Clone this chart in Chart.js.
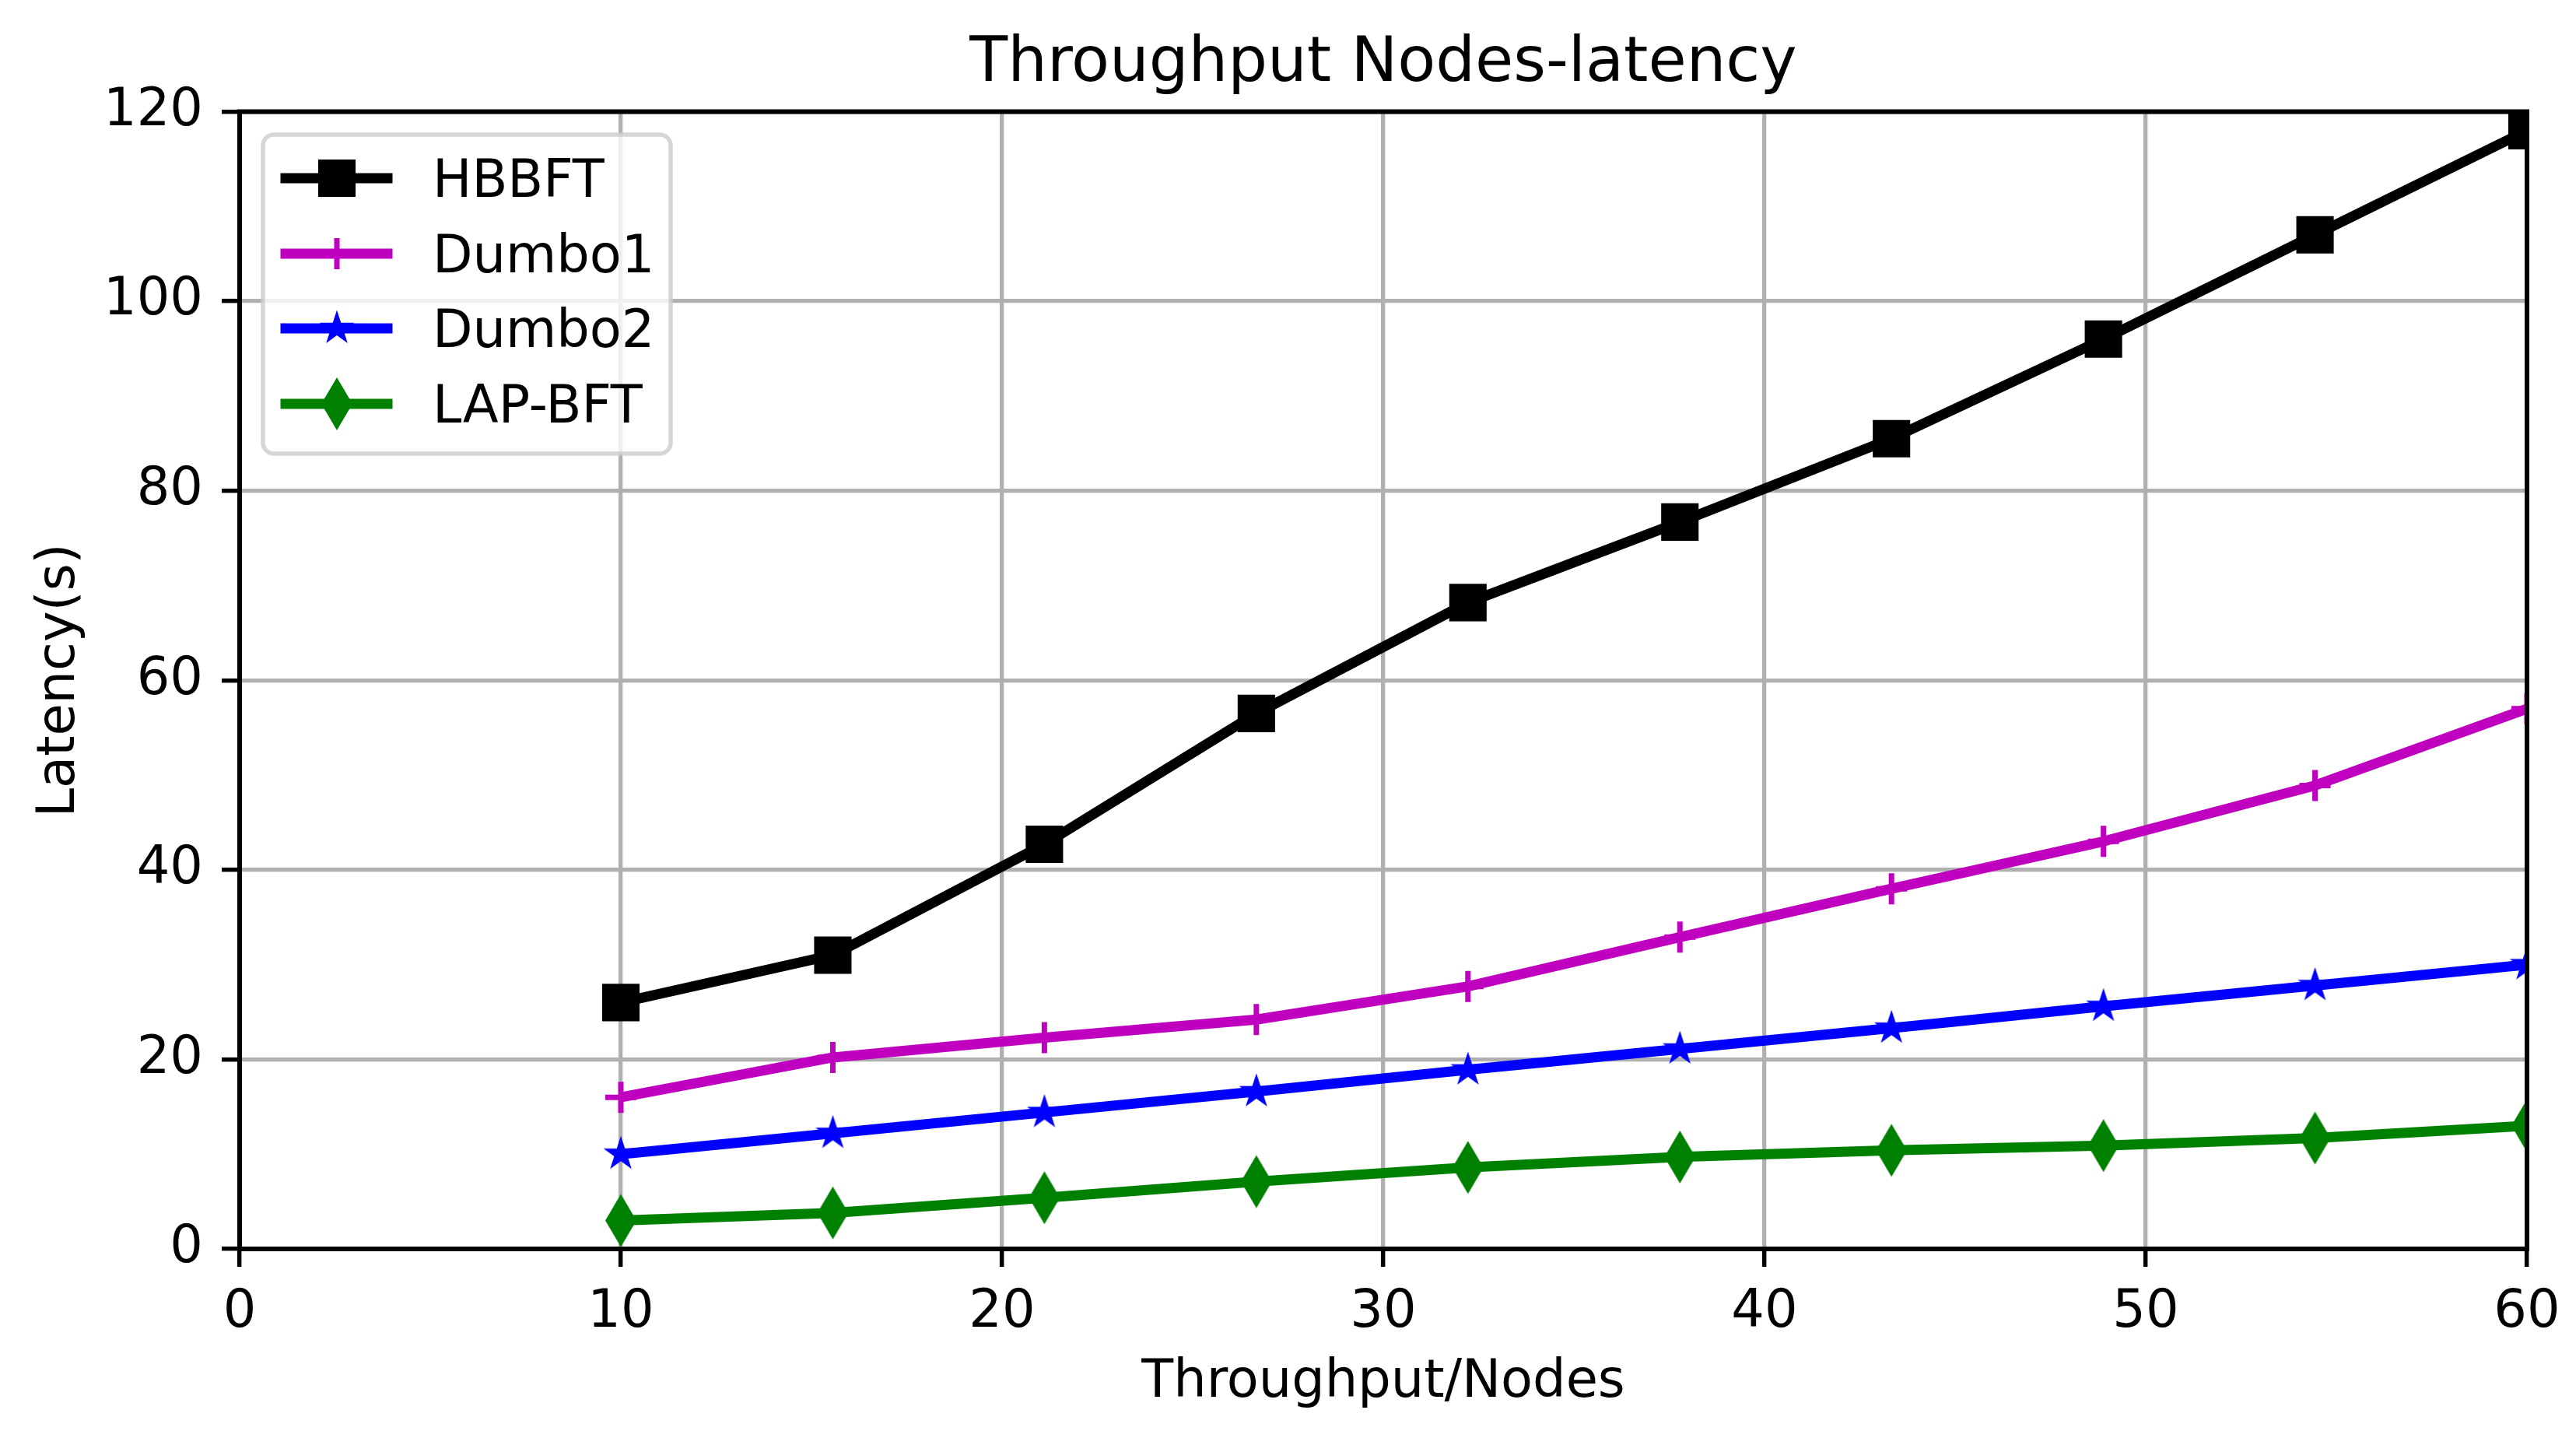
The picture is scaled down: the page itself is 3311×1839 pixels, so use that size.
<!DOCTYPE html>
<html>
<head>
<meta charset="utf-8">
<title>Throughput Nodes-latency</title>
<script src="https://cdn.jsdelivr.net/npm/chart.js@4.4.0/dist/chart.umd.min.js"></script>
<style>
  html, body { margin: 0; padding: 0; background: #ffffff; }
  #wrap { width: 3311px; height: 1839px; }
</style>
</head>
<body>
<div id="wrap"><canvas id="latencyChart" width="3311" height="1839"></canvas></div>
<script>
// throughput/nodes positions shared by every series
const nodes = [10, 15.56, 21.11, 26.67, 32.22, 37.78, 43.33, 48.89, 54.44, 60];

// latency in seconds
const hbbft  = [26, 31, 42.7, 56.5, 68.2, 76.7, 85.5, 96, 107, 118];
const dumbo1 = [16, 20.2, 22.3, 24.2, 27.7, 32.9, 38, 43, 48.9, 57];
const dumbo2 = [10, 12.2, 14.4, 16.6, 18.9, 21.1, 23.3, 25.6, 27.8, 30];
const lapbft = [3, 3.8, 5.4, 7.1, 8.6, 9.7, 10.4, 10.9, 11.7, 13];

const xTickValues = [0, 10, 20, 30, 40, 50, 60];
const yTickValues = [0, 20, 40, 60, 80, 100, 120];

const FONT = "'DejaVu Sans', 'Liberation Sans', sans-serif";

// small canvases used as marker images (filled star, thin diamond)
function markerCanvas(w, h, color, pts) {
    const c = document.createElement('canvas');
    c.width = w;
    c.height = h;
    const g = c.getContext('2d');
    g.beginPath();
    pts.forEach((p, i) => i ? g.lineTo(p[0], p[1]) : g.moveTo(p[0], p[1]));
    g.closePath();
    g.fillStyle = color;
    g.fill();
    return c;
}

const starPts = [];
for (let i = 0; i < 10; i++) {
    const r = i % 2 ? 9 : 23.5;
    const a = -Math.PI / 2 + i * Math.PI / 5;
    starPts.push([25 + r * Math.cos(a), 25 + r * Math.sin(a)]);
}
const starMarker = markerCanvas(50, 50, '#0000ff', starPts);
const diamondMarker = markerCanvas(44, 72, '#008000', [[22, 2], [42, 36], [22, 70], [2, 36]]);

function pairs(ys) {
    return nodes.map((x, i) => ({ x: x, y: ys[i] }));
}

function series(label, ys, color, style, radius, pointBorder, order) {
    return {
        label: label,
        data: pairs(ys),
        borderColor: color,
        backgroundColor: color,
        borderWidth: 13,
        borderJoinStyle: 'round',
        borderCapStyle: 'butt',
        tension: 0,
        fill: false,
        pointStyle: style,
        pointRadius: radius,
        pointHoverRadius: radius,
        pointBorderWidth: pointBorder,
        pointBackgroundColor: color,
        pointBorderColor: color,
        clip: 0,
        order: order
    };
}

const datasets = [
    series('HBBFT', hbbft, '#000000', 'rect', 34, 0, 4),
    series('Dumbo1', dumbo1, '#bf00bf', 'cross', 20, 7, 3),
    series('Dumbo2', dumbo2, '#0000ff', starMarker, 20, 0, 2),
    series('LAP-BFT', lapbft, '#008000', diamondMarker, 20, 0, 1)
];

// main title, centred over the plot area
const titlePlugin = {
    id: 'plotTitle',
    afterDraw(chart) {
        const ctx = chart.ctx;
        const a = chart.chartArea;
        ctx.save();
        ctx.font = '80px ' + FONT;
        ctx.fillStyle = '#000';
        ctx.textAlign = 'center';
        ctx.textBaseline = 'alphabetic';
        ctx.fillText('Throughput Nodes-latency', (a.left + a.right) / 2, 104);
        ctx.restore();
    }
};

// four black spines round the plot
const framePlugin = {
    id: 'frame',
    afterDatasetsDraw(chart) {
        const ctx = chart.ctx;
        const a = chart.chartArea;
        ctx.save();
        ctx.strokeStyle = '#000';
        ctx.lineWidth = 6;
        ctx.strokeRect(a.left, a.top, a.right - a.left, a.bottom - a.top);
        ctx.restore();
    }
};

// legend box in the upper-left corner of the axes
const legendPlugin = {
    id: 'insideLegend',
    afterDraw(chart) {
        const ctx = chart.ctx;
        ctx.save();
        ctx.beginPath();
        ctx.roundRect(338, 173, 524, 410, 14);
        ctx.fillStyle = 'rgba(255,255,255,0.8)';
        ctx.fill();
        ctx.lineWidth = 5.5;
        ctx.strokeStyle = 'rgba(204,204,204,0.8)';
        ctx.stroke();

        const rows = [229, 326, 422, 519];
        chart.data.datasets.forEach((ds, i) => {
            const y = rows[i];
            ctx.beginPath();
            ctx.moveTo(367, y);
            ctx.lineTo(498, y);
            ctx.lineWidth = ds.borderWidth;
            ctx.strokeStyle = ds.borderColor;
            ctx.lineCap = 'square';
            ctx.stroke();

            ctx.fillStyle = ds.pointBackgroundColor;
            ctx.strokeStyle = ds.pointBorderColor;
            ctx.lineWidth = ds.pointBorderWidth;
            ctx.lineCap = 'butt';
            Chart.helpers.drawPoint(ctx, {
                pointStyle: ds.pointStyle,
                radius: ds.pointRadius,
                rotation: 0,
                borderWidth: ds.pointBorderWidth
            }, 433, y);

            ctx.fillStyle = '#000';
            ctx.font = '67px ' + FONT;
            ctx.textAlign = 'left';
            ctx.textBaseline = 'alphabetic';
            ctx.fillText(ds.label, 556, y + 24);
        });
        ctx.restore();
    }
};

const gridStyle = {
    color: '#b0b0b0',
    lineWidth: 5.3,
    drawTicks: true,
    tickLength: 23,
    tickColor: '#000000',
    tickWidth: 5.5
};

new Chart(document.getElementById('latencyChart'), {
    type: 'line',
    data: { datasets: datasets },
    options: {
        responsive: false,
        animation: false,
        devicePixelRatio: 1,
        events: [],
        layout: { padding: { top: 143.5, right: 63, bottom: 0, left: 0 } },
        plugins: {
            legend: { display: false },
            tooltip: { enabled: false },
            title: { display: false }
        },
        scales: {
            x: {
                type: 'linear',
                min: 0,
                max: 60,
                afterBuildTicks: s => { s.ticks = xTickValues.map(v => ({ value: v })); },
                afterFit: s => { s.height = 234; },
                grid: gridStyle,
                border: { display: false },
                ticks: {
                    color: '#000',
                    padding: 19,
                    maxRotation: 0,
                    font: { family: FONT, size: 67 }
                },
                title: {
                    display: true,
                    text: 'Throughput/Nodes',
                    color: '#000',
                    padding: { top: 0, bottom: 21 },
                    font: { family: FONT, size: 67 }
                }
            },
            y: {
                type: 'linear',
                min: 0,
                max: 120,
                afterBuildTicks: s => { s.ticks = yTickValues.map(v => ({ value: v })); },
                afterFit: s => { s.width = 308; },
                grid: gridStyle,
                border: { display: false },
                ticks: {
                    color: '#000',
                    padding: 24,
                    font: { family: FONT, size: 67 }
                },
                title: {
                    display: true,
                    text: 'Latency(s)',
                    color: '#000',
                    padding: { top: 37, bottom: 0 },
                    font: { family: FONT, size: 67 }
                }
            }
        }
    },
    plugins: [titlePlugin, framePlugin, legendPlugin]
});
</script>
</body>
</html>
